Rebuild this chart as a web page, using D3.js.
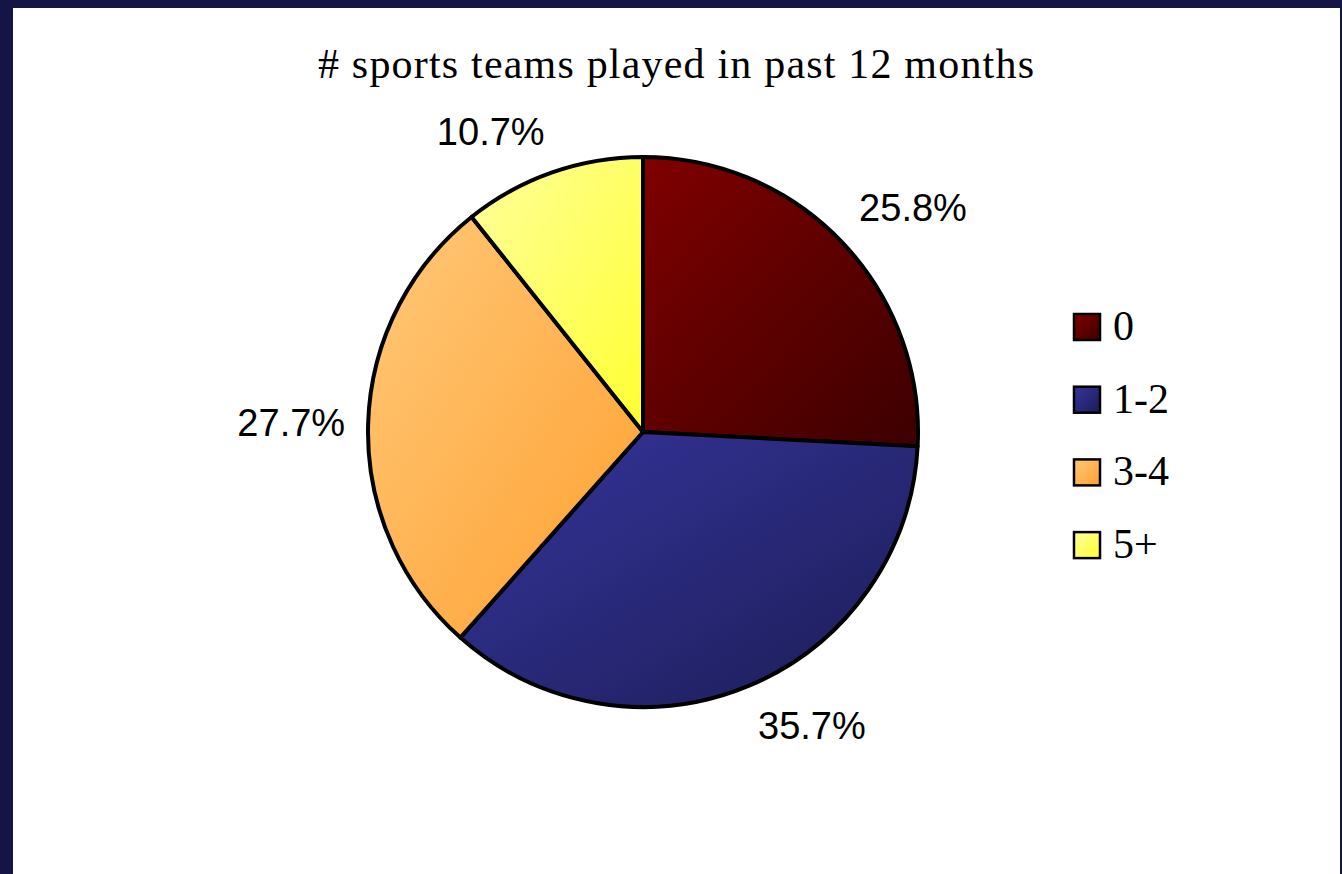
<!DOCTYPE html>
<html>
<head>
<meta charset="utf-8">
<script src="https://cdn.jsdelivr.net/npm/d3@7/dist/d3.min.js"></script>
<style>
  html, body { margin: 0; padding: 0; background: #151545; }
  svg { display: block; }
</style>
</head>
<body>
<script>
// Share of respondents by number of sports teams played in the past 12 months
const categories = ["0", "1-2", "3-4", "5+"];
const shares = [25.8, 35.7, 27.7, 10.7];
const titleText = "# sports teams played in past 12 months";

// gradient stops per category: light (top-left) to dark (bottom-right)
const palette = [
  ["#800000", "#3c0000"],
  ["#35359c", "#1c1c56"],
  ["#ffc878", "#ffa030"],
  ["#ffff9c", "#ffff30"]
];

const W = 1342, H = 874;
const svg = d3.select("body").append("svg").attr("width", W).attr("height", H);

// dark frame with white plot area
svg.append("rect").attr("width", W).attr("height", H).attr("fill", "#151545");
svg.append("rect").attr("x", 13).attr("y", 8).attr("width", W - 15).attr("height", H - 8).attr("fill", "#ffffff");

const defs = svg.append("defs");
palette.forEach((p, i) => {
  const g = defs.append("linearGradient").attr("id", "grad" + i)
    .attr("x1", "0%").attr("y1", "0%").attr("x2", "100%").attr("y2", "100%");
  g.append("stop").attr("offset", "0%").attr("stop-color", p[0]);
  g.append("stop").attr("offset", "100%").attr("stop-color", p[1]);
});

// title
svg.append("text")
  .attr("x", 676).attr("y", 78)
  .attr("text-anchor", "middle")
  .attr("font-family", "Liberation Serif, Times New Roman, serif")
  .attr("font-size", 42)
  .attr("textLength", 716)
  .attr("lengthAdjust", "spacing")
  .attr("fill", "#000")
  .text(titleText);

// pie
const cx = 643, cy = 432, r = 275;
const pie = d3.pie().sort(null).value(d => d);
const arcs = pie(shares);
const arc = d3.arc().innerRadius(0).outerRadius(r);

const g = svg.append("g").attr("transform", `translate(${cx},${cy})`);
g.selectAll("path.slice")
  .data(arcs)
  .join("path")
  .attr("class", "slice")
  .attr("d", arc)
  .attr("fill", (d, i) => `url(#grad${i})`)
  .attr("stroke", "#000")
  .attr("stroke-width", 4)
  .attr("stroke-linejoin", "round");

// percentage labels: the label box's inner corner sits just outside the slice
const fmt = d => d.toFixed(1) + "%";
const labelFont = 38;
const labels = g.selectAll("text.lbl")
  .data(arcs)
  .join("text")
  .attr("class", "lbl")
  .attr("font-family", "Liberation Sans, Arial, sans-serif")
  .attr("font-size", labelFont)
  .attr("fill", "#000")
  .attr("text-anchor", "middle")
  .attr("dominant-baseline", "central")
  .text(d => fmt(d.data));

labels.each(function(d) {
  const bb = this.getBBox();
  const a = (d.startAngle + d.endAngle) / 2;
  const s = Math.sin(a), c = -Math.cos(a);
  const R = r + 23;
  const hw = bb.width / 2, hh = labelFont / 2;
  const x = R * s + hw * Math.sign(s);
  const y = R * c + hh * Math.max(-1, Math.min(1, c * 3));
  d3.select(this).attr("x", x).attr("y", y);
});

// legend
const legend = svg.append("g").attr("transform", "translate(1074,314)");
const rowGap = 72.7;
const item = legend.selectAll("g.item")
  .data(categories)
  .join("g")
  .attr("class", "item")
  .attr("transform", (d, i) => `translate(0,${i * rowGap})`);

item.append("rect")
  .attr("x", 0).attr("y", 0).attr("width", 26).attr("height", 26)
  .attr("fill", (d, i) => `url(#grad${i})`)
  .attr("stroke", "#000").attr("stroke-width", 2.5);

item.append("text")
  .attr("x", 39).attr("y", 26)
  .attr("font-family", "Liberation Serif, Times New Roman, serif")
  .attr("font-size", 42)
  .attr("fill", "#000")
  .text(d => d);
</script>
</body>
</html>
